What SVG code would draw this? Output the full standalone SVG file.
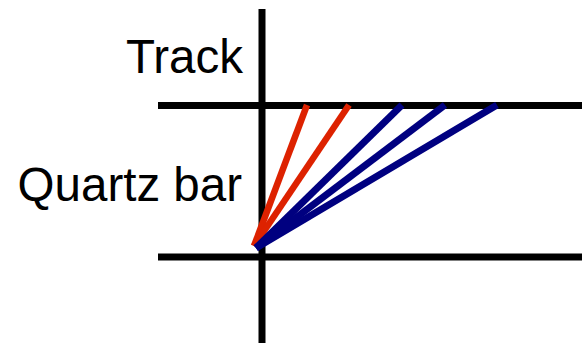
<svg xmlns="http://www.w3.org/2000/svg" width="582" height="343" viewBox="0 0 582 343">
<style>
.ax{stroke:#000;stroke-width:7;fill:none}
.r{stroke:#dd2200;stroke-width:6.5;fill:none}
.b{stroke:#000080;stroke-width:7;fill:none}
.t{font-family:"Liberation Sans",Arial,sans-serif;font-size:47.5px;fill:#000;text-anchor:end}
</style>
<rect width="582" height="343" fill="#fff"/>
<g id="axes">
<line class="ax" x1="262" y1="9" x2="262" y2="343"/>
<line class="ax" x1="158" y1="105.5" x2="582" y2="105.5"/>
<line class="ax" x1="158" y1="257" x2="582" y2="257"/>
</g>
<g id="labels">
<text class="t" x="243" y="73">Track</text>
<text class="t" x="242" y="201">Quartz bar</text>
</g>
<g id="connectors">
<line class="r" x1="254" y1="246" x2="307" y2="105"/>
<line class="r" x1="254" y1="246" x2="349" y2="105"/>
<line class="b" x1="256" y1="248" x2="402" y2="105"/>
<line class="b" x1="256" y1="248" x2="445" y2="105"/>
<line class="b" x1="256" y1="248" x2="497" y2="105"/>
</g>
</svg>
